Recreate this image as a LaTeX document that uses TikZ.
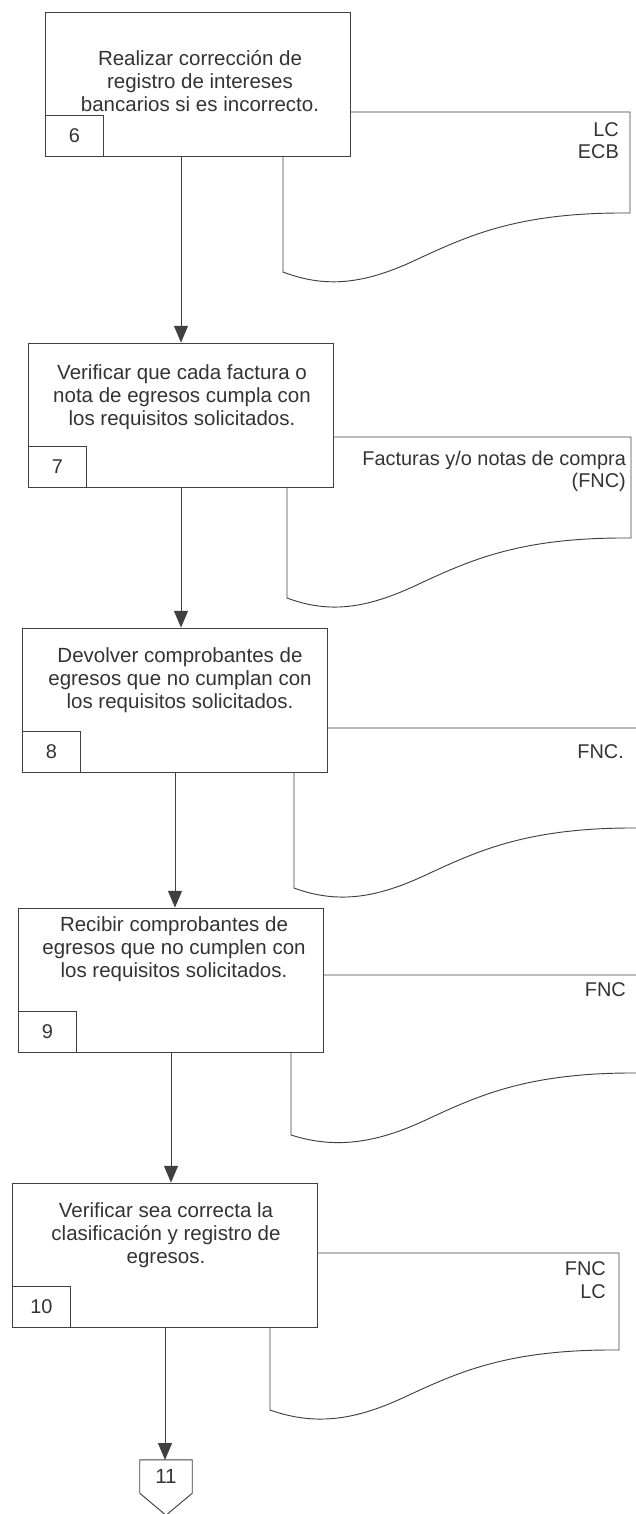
\documentclass[tikz,border=0pt]{standalone}
\usepackage{fontspec}
\setmainfont{Liberation Sans}
\usetikzlibrary{arrows.meta,positioning}

\begin{document}
\begin{tikzpicture}[
  x=0.03cm, y=-0.03cm,
  act/.style={rectangle, draw=black!75, line width=0.8pt, minimum width=9.15cm,
              minimum height=4.32cm},
  acttext/.style={align=center, text=black!80,
                  font=\fontsize{17.5pt}{19.5pt}\selectfont},
  num/.style={rectangle, draw=black!75, line width=0.8pt, minimum width=1.74cm,
              minimum height=1.23cm, anchor=south west, text=black!80,
              font=\fontsize{17pt}{18.4pt}\selectfont},
  doclabel/.style={align=right, anchor=east, text=black!80,
                   font=\fontsize{17pt}{19pt}\selectfont},
  doc/.style={draw=black!75, line width=0.8pt},
  flow/.style={-{Triangle[length=5mm, width=4.2mm]}, draw=black!75, line width=0.8pt},
]
\useasboundingbox (0,0) rectangle (635,1514);

% Step 6
\node[act] (a6) at (198,84) {};
\node[acttext] (t6) at (200,81) {Realizar corrección de\\registro de intereses\\bancarios si es incorrecto.};
\node[num] (n6) at (a6.south west) {6};
\node[doclabel] (d6) at (623,141) {LC\\ECB};
\draw[doc] (a6.east |- 0,112) -- (630,112) -- (630,213)
  .. controls (520,212) and (470,235) .. (420,258)
  .. controls (370,282) and (330,290) .. (283,272) -- (a6.south -| 283,0);

% Step 7
\node[act] (a7) at (181,415) {};
\node[acttext] (t7) at (182,397) {Verificar que cada factura o\\nota de egresos cumpla con\\los requisitos solicitados.};
\node[num] (n7) at (a7.south west) {7};
\node[doclabel] (d7) at (630,471) {Facturas y/o notas de compra\\(FNC)};
\draw[doc] (a7.east |- 0,437) -- (631,437) -- (631,538)
  .. controls (521,537) and (471,560) .. (421,583)
  .. controls (371,607) and (332,615) .. (287,598) -- (a7.south -| 287,0);

% Step 8
\node[act] (a8) at (175,700) {};
\node[acttext] (t8) at (180,680) {Devolver comprobantes de\\egresos que no cumplan con\\los requisitos solicitados.};
\node[num] (n8) at (a8.south west) {8};
\node[doclabel] (d8) at (628,752) {FNC.};
\draw[doc] (a8.east |- 0,728) -- (640,728) -- (640,828)
  .. controls (530,827) and (480,850) .. (430,873)
  .. controls (380,897) and (340,905) .. (294,888) -- (a8.south -| 294,0);

% Step 9
\node[act] (a9) at (171,980) {};
\node[acttext] (t9) at (174,949) {Recibir comprobantes de\\egresos que no cumplen con\\los requisitos solicitados.};
\node[num] (n9) at (a9.south west) {9};
\node[doclabel] (d9) at (630,990) {FNC};
\draw[doc] (a9.east |- 0,975) -- (640,975) -- (640,1073)
  .. controls (530,1072) and (480,1095) .. (430,1118)
  .. controls (380,1142) and (338,1150) .. (291,1135) -- (a9.south -| 291,0);

% Step 10
\node[act] (a10) at (165,1255) {};
\node[acttext] (t10) at (166,1235) {Verificar sea correcta la\\clasificación y registro de\\egresos.};
\node[num] (n10) at (a10.south west) {10};
\node[doclabel] (d10) at (610,1280) {FNC\\LC};
\draw[doc] (a10.east |- 0,1253) -- (619,1253) -- (619,1350)
  .. controls (509,1349) and (459,1372) .. (409,1395)
  .. controls (359,1419) and (318,1427) .. (270,1410) -- (a10.south -| 270,0);

% Off-page connector
\node[acttext, minimum width=1.56cm, minimum height=0.99cm] (c11) at (166,1476.5) {11};
\draw[doc] (c11.south west) -- (c11.north west) -- (c11.north east) -- (c11.south east)
  -- ([yshift=-0.66cm]c11.south) -- cycle;

% Flow
\draw[flow] (a7.north |- a6.south) -- (a7.north);
\draw[flow] (a7.south) -- (a7.south |- a8.north);
\draw[flow] (a8.south) -- (a8.south |- a9.north);
\draw[flow] (a9.south) -- (a9.south |- a10.north);
\draw[flow] (a10.south) -- (a10.south |- c11.north);

\end{tikzpicture}
\end{document}
